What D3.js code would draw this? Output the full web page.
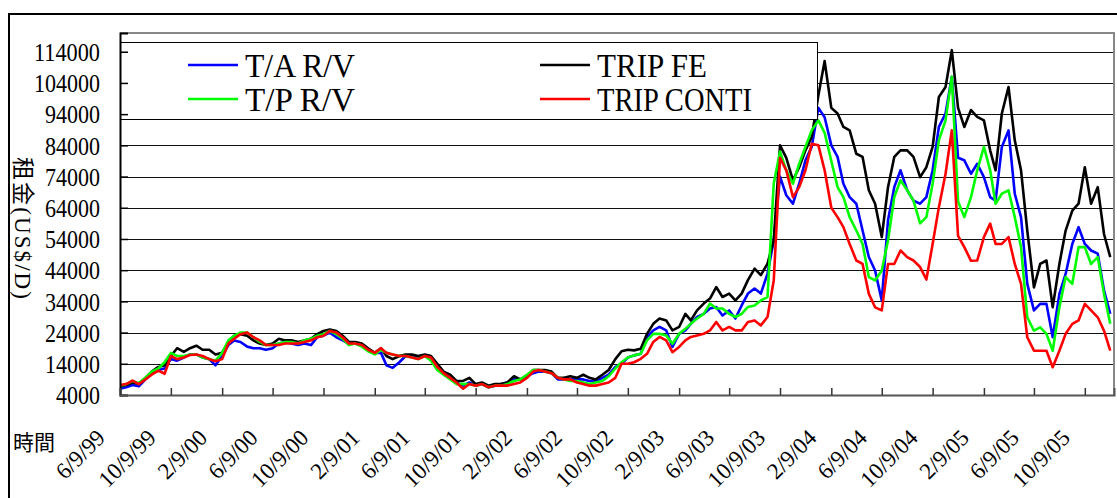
<!DOCTYPE html>
<html>
<head>
<meta charset="utf-8">
<script src="https://cdn.jsdelivr.net/npm/d3@7"></script>
<style>
  body { margin: 0; background: #fff; }
  svg { display: block; }
  text { font-family: "Liberation Serif", "Noto Sans CJK TC", serif; fill: #000; }
</style>
</head>
<body>
<div id="chart"></div>
<script>
// sample points: every half month from 6/9/99
var sampleMonths = d3.range(0, 78.5, 0.5);
var dates = sampleMonths.map(m => new Date(1999, 5 + Math.floor(m), m % 1 ? 24 : 9));

// T/A R/V (blue)
var taRV = [6000,6500,7200,6800,9000,11000,12000,12500,15500,15000,16000,17000,17000,16000,15500,13500,
  16500,20000,21500,21000,19500,19000,19000,18500,19000,20500,21000,20500,20000,20500,20000,22500,
  23000,24000,22500,21500,20500,20500,20000,18500,17500,17500,13500,12700,14500,16500,16500,16000,
  16500,16000,13000,11000,9500,8000,7000,8000,7000,7500,6500,7000,7500,8000,9000,9000,
  10000,11000,11500,11500,11000,9000,9000,9000,9000,9000,8500,8500,9500,10500,13000,14000,
  16000,16700,17200,22600,24700,25800,24700,19400,23600,24700,26800,29000,30000,31700,32200,29500,
  31100,28500,32700,36500,38100,36500,42900,53600,74000,68000,65300,71700,79200,83500,96000,93000,
  84000,80300,71700,67400,65300,56700,48200,43900,34300,60000,70600,76000,69600,66300,65300,67400,
  76000,89900,94200,106000,80000,79200,74900,78100,73800,67400,66300,83500,88800,68500,61000,39600,
  31100,33200,33200,22500,36400,42800,52400,57800,52400,50300,49300,37500,30000];
// TRIP FE (black)
var tripFE = [6800,7200,8000,7500,9500,11500,13000,13500,16500,19000,17800,19000,19800,18500,18500,17000,
  17500,21000,23000,23500,23000,21500,20500,20000,20500,22000,21500,21500,21000,21500,22000,23500,
  24500,25000,24500,23000,21000,21000,20500,19000,17500,19000,16500,15500,16500,17000,17000,16500,
  17000,16500,14000,11500,10500,8500,8500,9500,7500,8000,7000,7500,7500,8000,10000,9000,
  10000,12000,12000,12000,11500,9500,9500,10000,9500,10500,9500,9000,10500,12000,15500,18000,
  18500,18300,18800,23600,26800,28500,27900,24700,25800,30000,27900,31100,33300,34900,38600,35400,
  36500,34300,36500,40800,44500,42400,46100,53600,84000,80000,72800,77000,82400,86700,100000,111000,
  96000,94200,89900,88800,81300,80300,69600,65300,54600,70600,80300,82400,82400,80300,73800,77000,
  83500,99500,102700,114500,96000,89900,95300,93100,92000,82400,76000,94200,102700,85600,76000,56700,
  38500,46000,47100,32100,46000,56700,63100,65300,77000,65300,70600,55600,48200];
// T/P R/V (green)
var tpRV = [7000,7500,8500,7800,9500,11500,12500,14500,17500,16500,16500,17000,17000,16000,15500,15000,
  17500,21500,23000,24000,24000,22500,21000,20000,20000,20500,21000,21000,20500,21500,22000,23000,
  23500,24500,23500,22000,20000,20500,19500,18000,17000,18500,17500,17000,16500,16500,16000,15500,
  16500,15000,12000,10500,9000,7500,7500,7500,7000,7500,6500,7000,7000,7500,8500,9000,
  10500,12000,12000,11500,11000,9500,9000,8500,8500,8000,7500,8000,8500,10000,12500,14500,
  16000,16700,17200,21500,23600,23600,23100,20400,23600,25200,26800,28500,30000,33300,31700,31700,
  30000,29000,30000,32200,32700,34300,35400,71800,82000,76000,71700,78100,83500,88800,92000,88000,
  79000,70600,67400,61000,56700,52400,41800,40700,43900,53500,67400,72800,69600,66300,59000,61000,
  71700,85600,92000,106000,66000,61000,67400,76000,83500,76000,65300,68500,69600,61000,51400,28900,
  24600,25700,23600,18200,32100,41800,39600,51400,51400,46000,48200,36400,26800];
// TRIP CONTI (red)
var tripConti = [7200,7500,8600,7500,9000,10500,11800,10800,16500,15500,16000,16800,17000,16500,15500,14800,
  15500,20500,22000,23500,24000,22500,21500,20000,20000,20000,20500,20500,20500,21000,21500,22500,
  23000,24500,24000,22500,20500,20500,20000,18500,17500,19000,17500,17000,16500,16500,16000,15500,
  16500,16000,13000,11000,9500,8000,6000,7500,7000,7500,6500,7000,7000,7000,7500,8000,
  9500,11500,12000,11500,11000,9500,9000,9000,8000,7500,7000,7000,7500,8000,9500,14000,
  14000,14500,15600,17200,21000,22600,21500,17700,19400,21500,22600,23100,23600,24700,27400,24700,
  25800,24700,24700,27400,27900,26300,29000,40800,80000,76000,67400,70600,76000,84500,84000,76000,
  64000,61000,57800,52400,47100,46000,36400,32100,31100,46000,46000,50300,48200,47100,45000,41000,
  52400,64200,74900,88800,55000,51400,47000,47100,54600,58900,52400,52400,54600,46000,39600,22500,
  18200,18200,18200,12900,18200,23600,26800,27900,33200,31100,28900,24600,18200];

var seriesNames = ["T/A R/V", "TRIP FE", "T/P R/V", "TRIP CONTI"];
var seriesColors = ["#0000ff", "#000000", "#00ff00", "#ff0000"];
var seriesValues = [taRV, tripFE, tpRV, tripConti];

var tickLabels = ["6/9/99","10/9/99","2/9/00","6/9/00","10/9/00","2/9/01","6/9/01","10/9/01",
  "2/9/02","6/9/02","10/9/02","2/9/03","6/9/03","10/9/03","2/9/04","6/9/04","10/9/04",
  "2/9/05","6/9/05","10/9/05"];
var yTicks = [4000,14000,24000,34000,44000,54000,64000,74000,84000,94000,104000,114000];

var width = 1117, height = 498;
var plot = { left: 120, right: 1114, top: 33, bottom: 395 };

var parseDate = d3.timeParse("%m/%d/%y");
var tickDates = tickLabels.map(parseDate);

var x = d3.scaleTime()
  .domain([new Date(1999, 5, 9), new Date(2005, 11, 18)])
  .range([plot.left, plot.right]);
var y = d3.scaleLinear()
  .domain([4000, 120000])
  .range([plot.bottom, plot.top]);

var svg = d3.select("#chart").append("svg")
  .attr("width", width)
  .attr("height", height);

// outer frame
svg.append("rect")
  .attr("x", 9).attr("y", 14)
  .attr("width", 1200).attr("height", 600)
  .attr("fill", "none").attr("stroke", "#000").attr("stroke-width", 2);

// gridlines
svg.append("g").selectAll("line")
  .data(yTicks.slice(1))
  .enter().append("line")
  .attr("x1", plot.left).attr("x2", plot.right)
  .attr("y1", d => Math.round(y(d)) + 0.5)
  .attr("y2", d => Math.round(y(d)) + 0.5)
  .attr("stroke", "#111").attr("stroke-width", 1);

// plot border (top and right)
svg.append("path")
  .attr("d", `M${plot.left},${plot.top}H${plot.right}V${plot.bottom}`)
  .attr("fill", "none").attr("stroke", "#888").attr("stroke-width", 2);

svg.append("clipPath").attr("id", "clip")
  .append("rect")
  .attr("x", plot.left).attr("y", plot.top)
  .attr("width", plot.right - plot.left).attr("height", plot.bottom - plot.top);

var line = d3.line()
  .x((d, i) => x(dates[i]))
  .y(d => y(d));

svg.append("g").attr("clip-path", "url(#clip)")
  .selectAll("path")
  .data(seriesValues)
  .enter().append("path")
  .attr("d", d => line(d))
  .attr("fill", "none")
  .attr("stroke", (d, i) => seriesColors[i])
  .attr("stroke-width", 2.6)
  .attr("stroke-linejoin", "round");

// legend
var legend = svg.append("g");
legend.append("rect")
  .attr("x", 120.5).attr("y", 42.5)
  .attr("width", 697).attr("height", 77)
  .attr("fill", "#fff").attr("stroke", "#000").attr("stroke-width", 1);

var legendPos = [
  { lx: 188, ty: 65, textLen: 110 },
  { lx: 540, ty: 65, textLen: 110 },
  { lx: 188, ty: 99, textLen: 110 },
  { lx: 540, ty: 99, textLen: 155 }
];
legendPos.forEach(function(p, i) {
  legend.append("line")
    .attr("x1", p.lx).attr("x2", p.lx + 50)
    .attr("y1", p.ty).attr("y2", p.ty)
    .attr("stroke", seriesColors[i]).attr("stroke-width", 2.6);
  legend.append("text")
    .attr("x", p.lx + 57).attr("y", p.ty + 12)
    .attr("font-size", 33)
    .attr("textLength", p.textLen)
    .attr("lengthAdjust", "spacingAndGlyphs")
    .text(seriesNames[i]);
});

// y axis
var yAxis = svg.append("g")
  .attr("transform", `translate(${plot.left},0)`)
  .call(d3.axisLeft(y).tickValues(yTicks).tickSize(-8).tickPadding(20).tickFormat(d3.format("d")));
yAxis.select(".domain").attr("stroke", "#000").attr("stroke-width", 2);
yAxis.selectAll(".tick line").attr("stroke", "#000").attr("stroke-width", 1.5);
yAxis.selectAll("text")
  .attr("font-size", 25)
  .attr("font-family", "Liberation Serif")
  .attr("dy", "0.35em")
  .attr("textLength", d => String(d).length * 11)
  .attr("lengthAdjust", "spacingAndGlyphs");

// x axis
var xAxis = svg.append("g")
  .attr("transform", `translate(0,${plot.bottom})`)
  .call(d3.axisBottom(x).tickValues(tickDates).tickSize(-7).tickFormat((d, i) => tickLabels[i]));
xAxis.select(".domain").attr("stroke", "#555").attr("stroke-width", 2);
xAxis.selectAll(".tick line").attr("stroke", "#333").attr("stroke-width", 1.5);
xAxis.selectAll("text")
  .attr("font-size", 23)
  .attr("font-family", "Liberation Serif")
  .attr("text-anchor", "end")
  .attr("y", null).attr("dy", null)
  .attr("transform", "translate(-14,44) rotate(-45)");

// axis titles
svg.append("text")
  .attr("transform", "translate(15,228) rotate(90)")
  .attr("text-anchor", "middle")
  .attr("font-size", 23)
  .attr("textLength", 142)
  .attr("lengthAdjust", "spacing")
  .text("租金(US$/D)");

svg.append("text")
  .attr("x", 13).attr("y", 450)
  .attr("font-size", 21)
  .text("時間");
</script>
</body>
</html>
